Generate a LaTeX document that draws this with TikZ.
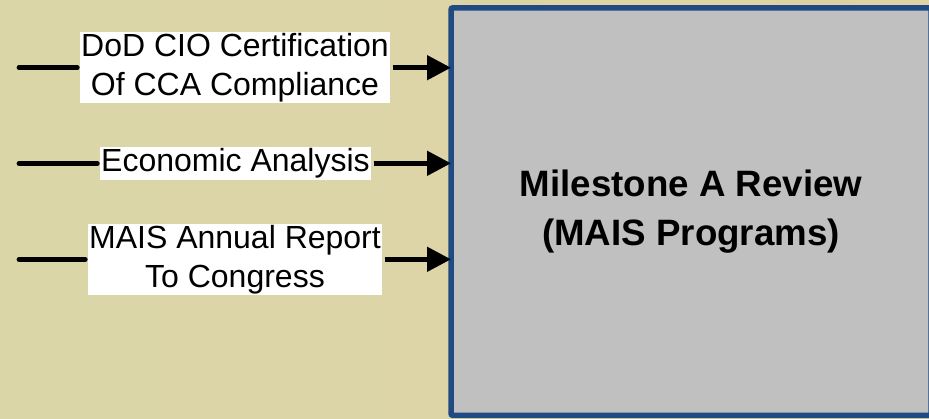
\documentclass[tikz,border=0pt]{standalone}
\usepackage{fontspec}
\setmainfont{Liberation Sans}
\usetikzlibrary{arrows.meta}
\definecolor{bgleft}{RGB}{218,214,168}
\definecolor{bgright}{RGB}{224,211,165}
\definecolor{boxgray}{RGB}{192,192,192}
\definecolor{boxblue}{RGB}{31,74,130}
\begin{document}
\begin{tikzpicture}[x=1pt, y=-1pt, line width=4.8pt,
  feed/.style={line cap=round},
  feedarrow/.style={-{Triangle[length=24pt, width=24pt]}},
  inlabel/.style={fill=white, inner xsep=1.5pt, inner ysep=1.5pt, align=center,
    font=\fontsize{32}{39}\selectfont},
  review/.style={draw=boxblue, fill=boxgray, line width=5.5pt, rounded corners=2pt,
    minimum width=480pt, minimum height=407.7pt, outer sep=0pt, align=center,
    font=\fontsize{36.7}{49}\selectfont\bfseries}]
  \useasboundingbox (0,0) rectangle (929,418);
  \shade[left color=bgleft, right color=bgright] (0,0) rectangle (929,418);
  \node[review] (ms) at (691,211.6) {Milestone A Review\\(MAIS Programs)};
  \coordinate (in1) at (19,67.7);
  \coordinate (in2) at (19,163.3);
  \coordinate (in3) at (19,259.3);
  \node[inlabel] (lab1) at (235,67.5) {DoD CIO Certification\\Of CCA Compliance};
  \node[inlabel] (lab2) at (235.5,163.5) {Economic Analysis};
  \node[inlabel] (lab3) at (235,259.5) {MAIS Annual Report\\To Congress};
  \draw[feed] (in1) -- (in1 -| lab1.west);
  \draw[feed] (in2) -- (in2 -| lab2.west);
  \draw[feed] (in3) -- (in3 -| lab3.west);
  \draw[feedarrow] (in1 -| lab1.east) -- (in1 -| ms.west);
  \draw[feedarrow] (in2 -| lab2.east) -- (in2 -| ms.west);
  \draw[feedarrow] (in3 -| lab3.east) -- (in3 -| ms.west);
\end{tikzpicture}
\end{document}
